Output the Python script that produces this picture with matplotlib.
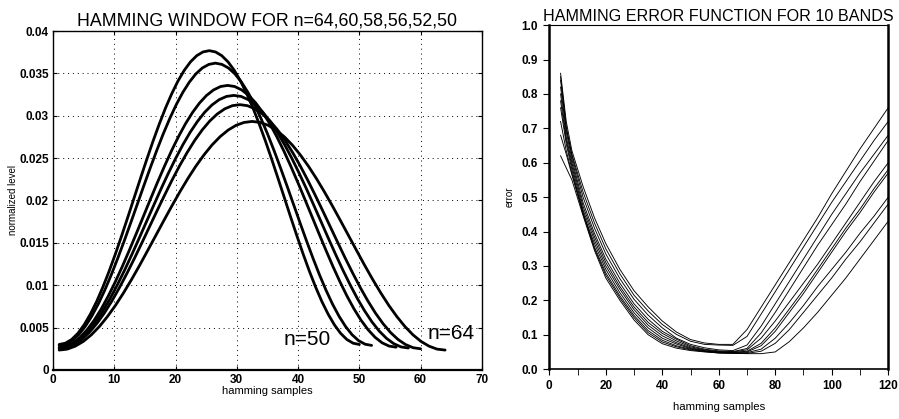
import numpy as np
import matplotlib
matplotlib.use("Agg")
import matplotlib.pyplot as plt

plt.rcParams['font.family'] = ['Liberation Sans', 'DejaVu Sans']

# ---- left panel: normalized hamming windows
win_sizes = [64, 60, 58, 56, 52, 50]
win_64 = [0.00235, 0.00246, 0.00281, 0.00337, 0.00415, 0.00513, 0.00630, 0.00762, 0.00909,
          0.01067, 0.01234, 0.01408, 0.01584, 0.01760, 0.01933, 0.02100, 0.02258, 0.02405,
          0.02537, 0.02654, 0.02752, 0.02830, 0.02887, 0.02921, 0.02933,
          0.02921, 0.02887, 0.02830, 0.02752, 0.02654, 0.02537, 0.02405, 0.02258, 0.02100,
          0.01933, 0.01760, 0.01584, 0.01408, 0.01234, 0.01067, 0.00909, 0.00762, 0.00630,
          0.00513, 0.00415, 0.00337, 0.00281, 0.00246, 0.00235]
win_60 = [0.00250, 0.00263, 0.00300, 0.00360, 0.00443, 0.00548, 0.00672, 0.00814, 0.00971,
          0.01140, 0.01318, 0.01503, 0.01691, 0.01879, 0.02063, 0.02242, 0.02411, 0.02567,
          0.02709, 0.02833, 0.02938, 0.03021, 0.03082, 0.03119, 0.03131,
          0.03119, 0.03082, 0.03021, 0.02938, 0.02833, 0.02709, 0.02567, 0.02411, 0.02242,
          0.02063, 0.01879, 0.01691, 0.01503, 0.01318, 0.01140, 0.00971, 0.00814, 0.00672,
          0.00548, 0.00443, 0.00360, 0.00300, 0.00263, 0.00250]
win_58 = [0.00259, 0.00272, 0.00310, 0.00373, 0.00459, 0.00567, 0.00696, 0.00842, 0.01005,
          0.01179, 0.01364, 0.01555, 0.01750, 0.01944, 0.02136, 0.02320, 0.02495, 0.02657,
          0.02804, 0.02932, 0.03041, 0.03127, 0.03190, 0.03228, 0.03240,
          0.03228, 0.03190, 0.03127, 0.03041, 0.02932, 0.02804, 0.02657, 0.02495, 0.02320,
          0.02136, 0.01944, 0.01750, 0.01555, 0.01364, 0.01179, 0.01005, 0.00842, 0.00696,
          0.00567, 0.00459, 0.00373, 0.00310, 0.00272, 0.00259]
win_56 = [0.00269, 0.00282, 0.00321, 0.00386, 0.00476, 0.00588, 0.00721, 0.00873, 0.01041,
          0.01222, 0.01414, 0.01612, 0.01813, 0.02015, 0.02213, 0.02404, 0.02586, 0.02754,
          0.02906, 0.03039, 0.03151, 0.03240, 0.03305, 0.03345, 0.03358,
          0.03345, 0.03305, 0.03240, 0.03151, 0.03039, 0.02906, 0.02754, 0.02586, 0.02404,
          0.02213, 0.02015, 0.01813, 0.01612, 0.01414, 0.01222, 0.01041, 0.00873, 0.00721,
          0.00588, 0.00476, 0.00386, 0.00321, 0.00282, 0.00269]
win_52 = [0.00290, 0.00304, 0.00346, 0.00416, 0.00513, 0.00634, 0.00777, 0.00941, 0.01122,
          0.01318, 0.01524, 0.01738, 0.01955, 0.02173, 0.02386, 0.02592, 0.02788, 0.02969,
          0.03133, 0.03276, 0.03397, 0.03494, 0.03564, 0.03606, 0.03621,
          0.03606, 0.03564, 0.03494, 0.03397, 0.03276, 0.03133, 0.02969, 0.02788, 0.02592,
          0.02386, 0.02173, 0.01955, 0.01738, 0.01524, 0.01318, 0.01122, 0.00941, 0.00777,
          0.00634, 0.00513, 0.00416, 0.00346, 0.00304, 0.00290]
win_50 = [0.00301, 0.00316, 0.00360, 0.00433, 0.00534, 0.00660, 0.00809, 0.00980, 0.01168,
          0.01371, 0.01586, 0.01808, 0.02035, 0.02261, 0.02483, 0.02698, 0.02901, 0.03090,
          0.03260, 0.03410, 0.03536, 0.03636, 0.03709, 0.03753, 0.03768,
          0.03753, 0.03709, 0.03636, 0.03536, 0.03410, 0.03260, 0.03090, 0.02901, 0.02698,
          0.02483, 0.02261, 0.02035, 0.01808, 0.01586, 0.01371, 0.01168, 0.00980, 0.00809,
          0.00660, 0.00534, 0.00433, 0.00360, 0.00316, 0.00301]
windows = [win_64, win_60, win_58, win_56, win_52, win_50]

left_xticks = [0, 10, 20, 30, 40, 50, 60, 70]
left_yticks = [0, 0.005, 0.01, 0.015, 0.02, 0.025, 0.03, 0.035, 0.04]
left_ylabels = ['0', '0.005', '0.01', '0.015', '0.02', '0.025', '0.03', '0.035', '0.04']

# ---- right panel: error functions for 10 bands
err_x = [4, 6, 8, 12, 16, 20, 25, 30, 35, 40, 45, 50, 55, 60, 65, 70, 75, 80, 85, 90, 95,
         100, 105, 110, 115, 120]
err_1 = [0.86, 0.72, 0.635, 0.53, 0.44, 0.365, 0.29, 0.228, 0.181, 0.140, 0.108, 0.086, 0.076,
         0.072, 0.072, 0.115, 0.18, 0.245, 0.31, 0.375, 0.44, 0.51, 0.575, 0.64, 0.70, 0.76]
err_2 = [0.84, 0.70, 0.625, 0.514, 0.425, 0.35, 0.277, 0.215, 0.169, 0.130, 0.101, 0.081, 0.072,
         0.070, 0.069, 0.095, 0.16, 0.225, 0.29, 0.355, 0.42, 0.485, 0.545, 0.605, 0.665, 0.72]
err_3 = [0.85, 0.705, 0.62, 0.499, 0.41, 0.335, 0.263, 0.203, 0.157, 0.120, 0.090, 0.072, 0.062,
         0.056, 0.054, 0.070, 0.125, 0.19, 0.255, 0.32, 0.385, 0.45, 0.51, 0.57, 0.625, 0.68]
err_4 = [0.82, 0.69, 0.61, 0.483, 0.395, 0.32, 0.25, 0.19, 0.145, 0.110, 0.087, 0.068, 0.058,
         0.053, 0.051, 0.060, 0.105, 0.165, 0.23, 0.295, 0.36, 0.42, 0.48, 0.545, 0.605, 0.665]
err_5 = [0.80, 0.675, 0.60, 0.472, 0.385, 0.31, 0.24, 0.181, 0.136, 0.104, 0.082, 0.065, 0.056,
         0.051, 0.050, 0.056, 0.090, 0.14, 0.195, 0.25, 0.305, 0.365, 0.425, 0.485, 0.545, 0.60]
err_6 = [0.78, 0.665, 0.59, 0.462, 0.375, 0.30, 0.232, 0.173, 0.128, 0.097, 0.077, 0.062, 0.054,
         0.050, 0.049, 0.052, 0.075, 0.12, 0.175, 0.23, 0.29, 0.35, 0.41, 0.465, 0.525, 0.58]
err_7 = [0.76, 0.655, 0.58, 0.451, 0.365, 0.29, 0.222, 0.164, 0.120, 0.090, 0.073, 0.060, 0.053,
         0.049, 0.048, 0.050, 0.068, 0.11, 0.165, 0.22, 0.28, 0.34, 0.40, 0.455, 0.515, 0.57]
err_8 = [0.72, 0.635, 0.57, 0.455, 0.355, 0.28, 0.213, 0.156, 0.112, 0.084, 0.068, 0.058, 0.052,
         0.048, 0.047, 0.048, 0.058, 0.090, 0.135, 0.185, 0.24, 0.29, 0.34, 0.395, 0.445, 0.50]
err_9 = [0.68, 0.625, 0.565, 0.45, 0.35, 0.273, 0.207, 0.150, 0.106, 0.079, 0.065, 0.056, 0.051,
         0.047, 0.046, 0.046, 0.052, 0.075, 0.115, 0.165, 0.215, 0.265, 0.32, 0.37, 0.425, 0.48]
err_10 = [0.62, 0.585, 0.55, 0.445, 0.345, 0.265, 0.20, 0.143, 0.100, 0.074, 0.061, 0.054, 0.050,
          0.047, 0.046, 0.045, 0.045, 0.050, 0.080, 0.12, 0.165, 0.215, 0.265, 0.32, 0.375, 0.43]
errors = [err_1, err_2, err_3, err_4, err_5, err_6, err_7, err_8, err_9, err_10]

right_xticks = [0, 20, 40, 60, 80, 100, 120]
right_yticks = [0.0, 0.1, 0.2, 0.3, 0.4, 0.5, 0.6, 0.7, 0.8, 0.9, 1.0]

fig = plt.figure(figsize=(8.99, 4.19), dpi=100)

# left
ax1 = fig.add_axes([0.059, 0.117, 0.477, 0.809])
for n, w in zip(win_sizes, windows):
    ax1.plot(np.linspace(1, n, len(w)), w, color='k', lw=2.0, solid_capstyle='round',
             solid_joinstyle='round')
ax1.set_xlim(0, 70)
ax1.set_ylim(0, 0.04)
ax1.set_xticks(left_xticks)
ax1.set_yticks(left_yticks)
ax1.set_yticklabels(left_ylabels)
ax1.grid(True, color='k', linestyle=(0, (1, 4)), lw=0.7)
ax1.tick_params(direction='in', top=True, right=True, length=3, labelsize=8.5, pad=3)
for lab in ax1.get_xticklabels() + ax1.get_yticklabels():
    lab.set_fontweight('bold')
for sp in ax1.spines.values():
    sp.set_linewidth(1.0)
ax1.spines['bottom'].set_linewidth(1.6)
ax1.set_title('HAMMING WINDOW FOR n=64,60,58,56,52,50', fontsize=12.8, pad=4)
ax1.set_xlabel('hamming samples', fontsize=8, labelpad=0)
ax1.set_ylabel('normalized level', fontsize=7, labelpad=1)
ax1.text(37.7, 0.0030, 'n=50', fontsize=15)
ax1.text(61.2, 0.0036, 'n=64', fontsize=15)

# right
ax2 = fig.add_axes([0.611, 0.119, 0.377, 0.821])
for e in errors:
    ax2.plot(err_x, e, color='k', lw=0.65, solid_joinstyle='round')
ax2.set_xlim(0, 120)
ax2.set_ylim(0, 1.0)
ax2.set_xticks(right_xticks)
ax2.set_xticks(range(0, 121, 10), minor=True)
ax2.set_yticks(right_yticks)
ax2.set_yticklabels(['%.1f' % v for v in right_yticks])
ax2.tick_params(which='both', direction='out', length=4, labelsize=8.5, pad=4)
for lab in ax2.get_xticklabels() + ax2.get_yticklabels():
    lab.set_fontweight('bold')
ax2.spines['left'].set_linewidth(1.8)
ax2.spines['right'].set_linewidth(1.8)
ax2.spines['bottom'].set_linewidth(1.2)
ax2.spines['top'].set_linewidth(0.8)
ax2.set_title('HAMMING ERROR FUNCTION FOR 10 BANDS', fontsize=11.6, pad=3)
ax2.set_xlabel('hamming samples', fontsize=8.2, labelpad=7)
ax2.set_ylabel('error', fontsize=7, labelpad=5)

fig.savefig('out.png', dpi=100)
